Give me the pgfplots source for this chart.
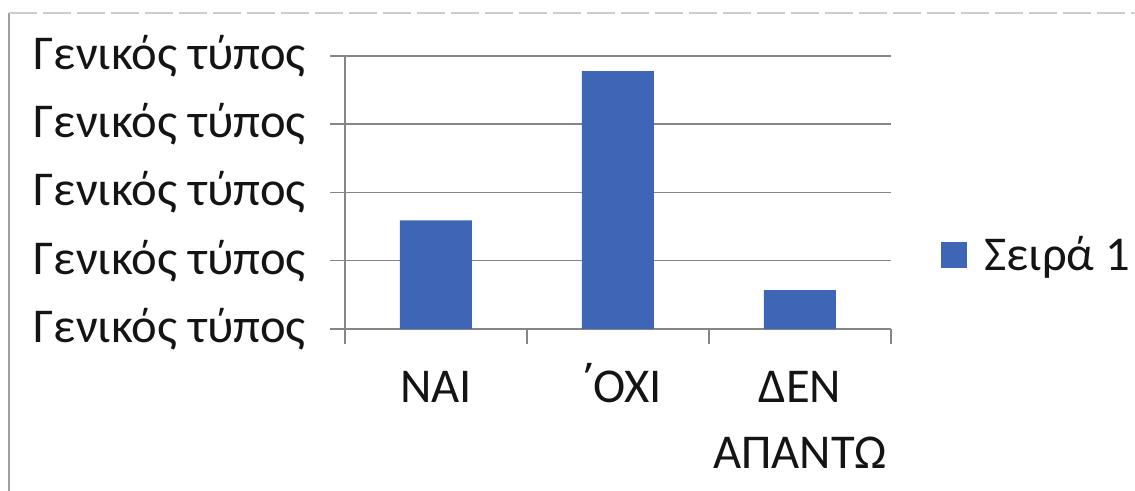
\documentclass[border=0pt]{standalone}
\usepackage{fontspec}
\setmainfont{Carlito}
\newfontfamily\accfont{Open Sans}
\usepackage{pgfplots}
\pgfplotsset{compat=1.18}
\definecolor{barblue}{HTML}{3F66B6}
\definecolor{txt}{HTML}{141414}
\definecolor{gridgray}{HTML}{868686}
\begin{document}
\begin{tikzpicture}
% page frame of the scanned chart: 1135 x 491 px at 0.5pt per px
\useasboundingbox (-172.5pt,-81pt) rectangle (395pt,164.5pt);
\draw[gray!75, line width=1pt] (-168pt,-81pt) -- (-168pt,158pt);
\draw[gray!40, line width=0.8pt, dash pattern=on 14pt off 3pt] (-168pt,158pt) -- (395pt,158pt);
\begin{axis}[
  at={(0pt,0pt)}, anchor=south west,
  scale only axis, width=273pt, height=136.5pt,
  xmin=-0.5, xmax=2.5, ymin=0, ymax=40,
  axis x line*=bottom, axis y line*=left,
  axis line style={gridgray, line width=0.75pt},
  ymajorgrids, grid style={gridgray, line width=0.75pt},
  tick align=outside, major tick length=7.5pt,
  tick style={gridgray, line width=0.75pt},
  xtick={-0.5,0.5,1.5,2.5}, xticklabels={},
  extra x ticks={0,1,2},
  extra x tick labels={ΝΑΙ,\smash{\accfont ΄}\kern-4pt ΟΧΙ,{ΔΕΝ\\ΑΠΑΝΤΩ}},
  extra x tick style={major tick length=0pt, grid=none,
    xticklabel style={align=center, anchor=north, yshift=-17.5pt}},
  ytick={0,10,20,30,40},
  yticklabels={Γενικός τύπος,Γενικός τύπος,Γενικός τύπος,Γενικός τύπος,Γενικός τύπος},
  every tick label/.append style={font=\fontsize{24.3}{33}\selectfont, text=txt},
  yticklabel style={xshift=-8.5pt},
  legend style={at={(1,0.271)}, anchor=west, xshift=22pt, draw=none, fill=none,
    font=\fontsize{24.3}{32}\selectfont, text=txt,
    nodes={inner xsep=6pt}},
  legend image code/.code={\fill[barblue] (0pt,-6.5pt) rectangle (13pt,6.5pt);},
]
\addplot[ybar, bar width=36pt, fill=barblue, draw=none]
  coordinates {(0,15.9) (1,37.8) (2,5.7)};
\addlegendentry{\hspace{2.5pt}Σειρά 1}
\end{axis}
\end{tikzpicture}
\end{document}
